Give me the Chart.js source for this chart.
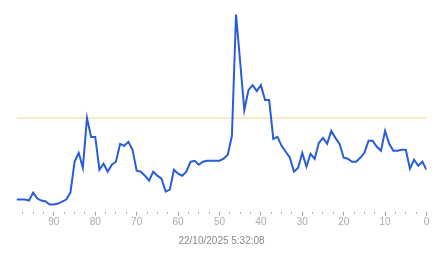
<!DOCTYPE html>
<html>
<head>
<meta charset="utf-8">
<script src="https://cdn.jsdelivr.net/npm/chart.js@4/dist/chart.umd.min.js"></script>
<style>
  html, body { margin: 0; padding: 0; background: #fff; }
  #wrap { width: 443px; height: 258px; }
</style>
</head>
<body>
<div id="wrap"><canvas id="chart"></canvas></div>
<script>
// seconds ago (x) and measured values (y)
const secondsAgo = [
  99, 98, 97, 96, 95, 94, 93, 92, 91, 90,
  89, 88, 87, 86, 85, 84, 83, 82, 81, 80,
  79, 78, 77, 76, 75, 74, 73, 72, 71, 70,
  69, 68, 67, 66, 65, 64, 63, 62, 61, 60,
  59, 58, 57, 56, 55, 54, 53, 52, 51, 50,
  49, 48, 47, 46, 45, 44, 43, 42, 41, 40,
  39, 38, 37, 36, 35, 34, 33, 32, 31, 30,
  29, 28, 27, 26, 25, 24, 23, 22, 21, 20,
  19, 18, 17, 16, 15, 14, 13, 12, 11, 10,
  9, 8, 7, 6, 5, 4, 3, 2, 1, 0
];
const values = [
  12, 12, 12, 11, 19, 13, 11, 10, 7, 7,
  8, 10, 12, 19, 50, 59, 44, 94, 75, 75,
  42, 48, 40, 47, 50, 68, 66, 70, 62, 41,
  40, 36, 31, 40, 36, 33, 20, 22, 42, 38,
  36, 40, 50, 51, 47, 50, 51, 51, 51, 51,
  53, 57, 76, 198, 150, 102, 122, 127, 121, 127,
  112, 112, 73, 75, 66, 60, 54, 40, 44, 59,
  45, 58, 53, 69, 74, 68, 81, 74, 68, 54,
  53, 50, 50, 54, 59, 71, 71, 65, 61, 81,
  68, 61, 61, 62, 62, 43, 52, 46, 50, 42
];
const threshold = 94;
const titleText = '22/10/2025 5:32:08';

const points = secondsAgo.map(function (s, i) { return { x: s, y: values[i] }; });
const limitLine = [
  { x: secondsAgo[0], y: threshold },
  { x: secondsAgo[secondsAgo.length - 1], y: threshold }
];

new Chart(document.getElementById('chart'), {
  type: 'line',
  data: {
    datasets: [
      {
        data: limitLine,
        borderColor: '#ecd688',
        borderWidth: 1,
        pointRadius: 0,
        order: 2
      },
      {
        data: points,
        borderColor: '#2a5cd8',
        borderWidth: 2,
        pointRadius: 0,
        tension: 0,
        order: 1
      }
    ]
  },
  options: {
    responsive: true,
    maintainAspectRatio: false,
    animation: false,
    layout: { padding: { left: 16.6, right: 16.5, top: 12.5, bottom: 5 } },
    plugins: {
      legend: { display: false },
      tooltip: { enabled: false },
      title: {
        display: true,
        text: titleText,
        position: 'bottom',
        color: '#888',
        font: { family: 'Liberation Sans, Arial, sans-serif', size: 10, weight: 'normal' },
        padding: { top: 5.5, bottom: 6 }
      }
    },
    scales: {
      x: {
        type: 'linear',
        reverse: true,
        min: 0,
        max: 99,
        border: { display: false },
        grid: {
          drawOnChartArea: false,
          drawTicks: true,
          tickLength: 4,
          tickColor: '#999',
          tickWidth: 1,
          tickBorderDash: function (ctx) {
            return ctx.tick && ctx.tick.value % 10 === 0 ? [] : [1.5, 10];
          }
        },
        ticks: {
          stepSize: 2.5,
          includeBounds: false,
          autoSkip: false,
          maxRotation: 0,
          padding: 1,
          color: '#aaa',
          font: { family: 'Liberation Sans, Arial, sans-serif', size: 10 },
          callback: function (v) { return v % 10 === 0 ? String(v) : ''; }
        }
      },
      y: {
        display: false,
        min: 0,
        max: 200
      }
    }
  }
});
</script>
</body>
</html>
